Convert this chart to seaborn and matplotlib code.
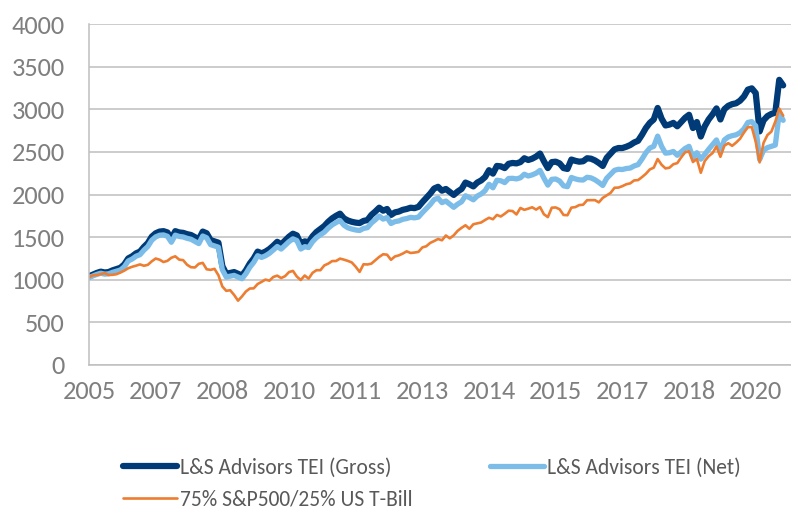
import numpy as np
import pandas as pd
import matplotlib
matplotlib.use('Agg')
import matplotlib.pyplot as plt
import seaborn as sns
from matplotlib import font_manager

# monthly index values, Dec 2005 .. Sep 2020
gross = [1040, 1060, 1080, 1095, 1085, 1090, 1110, 1125, 1140, 1180, 1250, 1275,
         1310, 1330, 1385, 1430, 1505, 1545, 1565, 1570, 1555, 1485, 1570, 1555,
         1550, 1535, 1525, 1500, 1475, 1565, 1545, 1465, 1450, 1435, 1160, 1070,
         1080, 1090, 1070, 1050, 1110, 1190, 1250, 1330, 1310, 1330, 1360, 1400,
         1445, 1415, 1460, 1505, 1540, 1520, 1420, 1450, 1440, 1510, 1560, 1595,
         1630, 1680, 1720, 1750, 1775, 1720, 1695, 1680, 1670, 1665, 1690, 1700,
         1760, 1800, 1845, 1810, 1830, 1760, 1790, 1800, 1820, 1830, 1845, 1840,
         1855, 1910, 1960, 2010, 2070, 2090, 2045, 2065, 2030, 1995, 2035, 2065,
         2140, 2120, 2095, 2140, 2165, 2205, 2285, 2245, 2335, 2330, 2310, 2360,
         2370, 2365, 2380, 2425, 2405, 2420, 2445, 2480, 2390, 2310, 2380, 2385,
         2365, 2310, 2300, 2410, 2395, 2385, 2390, 2425, 2420, 2400, 2370, 2335,
         2430, 2480, 2530, 2545, 2545, 2560, 2580, 2610, 2630, 2700, 2780, 2840,
         2880, 3015, 2890, 2810, 2820, 2840, 2800, 2850, 2900, 2935, 2780, 2850,
         2680, 2800, 2880, 2940, 3010, 2880, 3000, 3040, 3060, 3070, 3100, 3150,
         3230, 3245, 3190, 2740, 2870, 2920, 2945, 2960, 3345, 3280]

net = [1025, 1045, 1063, 1077, 1066, 1070, 1087, 1101, 1114, 1152, 1220, 1243,
       1276, 1294, 1347, 1390, 1463, 1503, 1522, 1526, 1510, 1440, 1523, 1508,
       1502, 1486, 1475, 1450, 1424, 1513, 1492, 1412, 1397, 1382, 1118, 1032,
       1042, 1051, 1031, 1012, 1070, 1146, 1204, 1282, 1262, 1281, 1310, 1349,
       1390, 1360, 1403, 1447, 1480, 1460, 1360, 1388, 1378, 1446, 1494, 1527,
       1558, 1605, 1643, 1671, 1695, 1640, 1610, 1595, 1584, 1578, 1602, 1611,
       1665, 1703, 1747, 1711, 1730, 1660, 1682, 1690, 1709, 1718, 1732, 1726,
       1735, 1787, 1835, 1882, 1940, 1958, 1905, 1923, 1887, 1850, 1887, 1915,
       1985, 1964, 1938, 1982, 2006, 2045, 2120, 2079, 2167, 2161, 2140, 2188,
       2190, 2183, 2196, 2238, 2217, 2230, 2250, 2283, 2192, 2110, 2178, 2182,
       2158, 2102, 2092, 2200, 2183, 2172, 2170, 2202, 2195, 2173, 2142, 2106,
       2190, 2237, 2284, 2296, 2293, 2305, 2310, 2335, 2350, 2415, 2490, 2545,
       2565, 2685, 2565, 2485, 2490, 2505, 2460, 2500, 2540, 2565, 2430, 2490,
       2415, 2470, 2530, 2585, 2640, 2510, 2640, 2675, 2690, 2700, 2725, 2770,
       2845, 2855, 2805, 2410, 2520, 2550, 2565, 2580, 2955, 2870]

blend = [1030, 1052, 1055, 1066, 1078, 1056, 1058, 1065, 1084, 1107, 1135, 1152,
         1165, 1180, 1164, 1175, 1216, 1249, 1235, 1208, 1222, 1258, 1275, 1236,
         1230, 1176, 1147, 1144, 1187, 1198, 1123, 1116, 1128, 1053, 921, 870,
         877, 822, 755, 804, 862, 897, 899, 950, 975, 1002, 989, 1033,
         1048, 1020, 1042, 1090, 1104, 1037, 997, 1050, 1013, 1081, 1112, 1112,
         1168, 1189, 1219, 1220, 1248, 1236, 1221, 1203, 1153, 1092, 1182, 1179,
         1189, 1228, 1268, 1299, 1294, 1234, 1273, 1286, 1307, 1333, 1314, 1319,
         1327, 1379, 1393, 1432, 1454, 1478, 1463, 1519, 1486, 1521, 1574, 1609,
         1639, 1598, 1651, 1662, 1672, 1701, 1727, 1710, 1760, 1742, 1774, 1810,
         1806, 1766, 1842, 1820, 1834, 1850, 1823, 1853, 1768, 1735, 1845, 1848,
         1827, 1760, 1757, 1846, 1852, 1876, 1880, 1933, 1933, 1934, 1908, 1960,
         1990, 2019, 2079, 2081, 2098, 2120, 2131, 2165, 2169, 2204, 2243, 2294,
         2315, 2416, 2349, 2306, 2314, 2355, 2368, 2436, 2495, 2507, 2381, 2417,
         2255, 2392, 2449, 2486, 2564, 2442, 2572, 2602, 2571, 2609, 2654, 2726,
         2789, 2791, 2619, 2377, 2606, 2698, 2738, 2855, 3009, 2924]

series_names = ['L&S Advisors TEI (Gross)', 'L&S Advisors TEI (Net)', '75% S&P500/25% US T-Bill']
year_labels = ['2005', '2007', '2008', '2010', '2011', '2013', '2014', '2015', '2017', '2018', '2020']

sns.set_theme(style='white')
avail = {f.name for f in font_manager.fontManager.ttflist}
fam = next(f for f in ['Carlito', 'Calibri', 'Lato', 'Open Sans', 'DejaVu Sans'] if f in avail)
plt.rcParams['font.family'] = [fam, 'DejaVu Sans']

months = np.arange(len(gross))
df = pd.DataFrame({'month': months, 'gross': gross, 'net': net, 'blend': blend})

fig = plt.figure(figsize=(7.91, 5.12), dpi=100)
ax = fig.add_axes([89 / 791, 1 - 365 / 512, (791 - 89) / 791, (365 - 24) / 512])

grid_c = '#BFBFBF'
ax.set_axisbelow(True)
ax.yaxis.grid(True, color=grid_c, linewidth=1.1)
ax.xaxis.grid(False)

style = dict(solid_capstyle='round', solid_joinstyle='round')
sns.lineplot(data=df, x='month', y='gross', ax=ax, color='#003B77', linewidth=4.5,
             label=series_names[0], **style)
sns.lineplot(data=df, x='month', y='net', ax=ax, color='#7BBCE8', linewidth=3.8,
             label=series_names[1], **style)
sns.lineplot(data=df, x='month', y='blend', ax=ax, color='#ED7D31', linewidth=1.9,
             label=series_names[2], **style)

ax.set_xlim(0, 179)
ax.set_ylim(0, 4000)
ax.set_yticks(np.arange(0, 4001, 500))
ax.set_xticks(np.arange(0, 179, 17))
ax.set_xticklabels(year_labels)
ax.set_xlabel('')
ax.set_ylabel('')

for s in ['top', 'right']:
    ax.spines[s].set_visible(False)
for s in ['left', 'bottom']:
    ax.spines[s].set_color(grid_c)
    ax.spines[s].set_linewidth(1.1)

ax.tick_params(axis='both', direction='out', length=6.5, width=1.1, color=grid_c,
               labelcolor='#7F7F7F', labelsize=19)
ax.tick_params(axis='y', pad=11)
ax.tick_params(axis='x', pad=4)

h, l = ax.get_legend_handles_labels()
order = [0, 2, 1]
ax.legend([h[i] for i in order], [l[i] for i in order], ncol=2, loc='upper left',
          bbox_to_anchor=(123 / 791, 1 - 458 / 512), bbox_transform=fig.transFigure,
          frameon=False, fontsize=15.5, labelcolor='#595959', handlelength=2.5,
          handletextpad=0.15, columnspacing=3.6, borderpad=0, borderaxespad=0,
          labelspacing=0.55)

fig.savefig('out.png', dpi=100)
